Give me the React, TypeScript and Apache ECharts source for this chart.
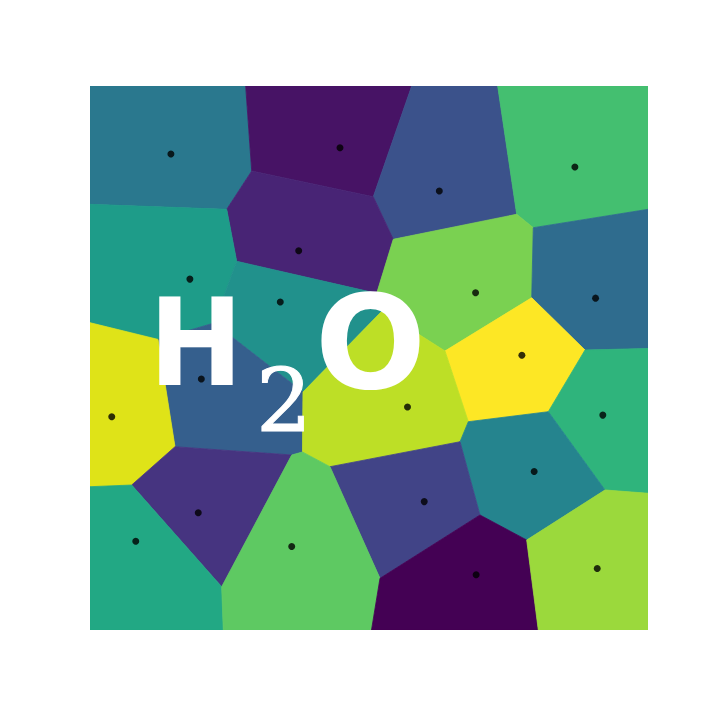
import React, { useEffect, useRef } from "react";
import * as echarts from "echarts";

// Marked points (data coordinates, axes 0..1)
const SITE_X = [0.145, 0.448, 0.626, 0.869, 0.374, 0.179, 0.341, 0.691, 0.906, 0.774, 0.1995, 0.039, 0.569, 0.919, 0.796, 0.599, 0.194, 0.082, 0.3615, 0.692, 0.909];
const SITE_Y = [0.875, 0.8865, 0.807, 0.851, 0.697, 0.645, 0.603, 0.620, 0.610, 0.505, 0.4615, 0.392, 0.410, 0.395, 0.2915, 0.236, 0.2155, 0.163, 0.1535, 0.1015, 0.113];
// colour value of each cell (0..1 on the viridis scale)
const CELL_VALUES = [0.40, 0.05, 0.25, 0.70, 0.10, 0.55, 0.50, 0.80, 0.35, 1.00, 0.30, 0.95, 0.90, 0.65, 0.45, 0.20, 0.15, 0.60, 0.75, 0.00, 0.85];

// Cell corner vertices (data coordinates)
const VERTEX_X = [0, 0.279, 0.2898, 0, 0.245, 0.5077, 0.5765, 0.7306, 0.7647, 0.5435, 1, 1, 0.7944, 0.2629, 0.5138, 0.5233, 0.6362, 0.7916, 0.8871, 1, 0.2222, 0.1219, 0, 0.3817, 0.1523, 0.0747, 0, 0.3615, 0.3808, 0.4301, 0.6631, 0.678, 0.8213, 0.9229, 1, 0.6989, 0.7826, 0.8034, 0.5197, 0.5045, 0.236, 0.2389, 0, 1];
const VERTEX_Y = [1, 1, 0.8438, 0.7825, 0.7733, 0.7965, 1, 1, 0.7642, 0.7182, 1, 0.7733, 0.7395, 0.6778, 0.6189, 0.5864, 0.5129, 0.6108, 0.5147, 0.5175, 0.5643, 0.5342, 0.5649, 0.4375, 0.3369, 0.2665, 0.2634, 0.3217, 0.3272, 0.3002, 0.3461, 0.3829, 0.4013, 0.2574, 0.2513, 0.2114, 0.1654, 0, 0.095, 0, 0.0796, 0, 0, 0];
// vertex indices of each cell, same order as the points
const CELL_VERTICES = [
  [0, 1, 2, 4, 3],
  [1, 6, 5, 2],
  [6, 7, 8, 9, 5],
  [7, 10, 11, 12, 8],
  [2, 5, 9, 14, 13, 4],
  [3, 4, 13, 20, 21, 22],
  [13, 14, 15, 23, 20],
  [9, 8, 12, 17, 16, 15, 14],
  [12, 11, 19, 18, 17],
  [17, 18, 32, 31, 16],
  [20, 23, 28, 27, 24, 21],
  [22, 21, 24, 25, 26],
  [15, 16, 31, 30, 29, 28, 23],
  [18, 19, 34, 33, 32],
  [31, 32, 33, 36, 35, 30],
  [30, 35, 38, 29],
  [24, 27, 40, 25],
  [26, 25, 40, 41, 42],
  [27, 28, 29, 38, 39, 41, 40],
  [35, 36, 37, 39, 38],
  [33, 34, 43, 37, 36],
];

const VIRIDIS = [
  "#440154", "#471365", "#482475", "#463480", "#414487", "#3b528b", "#355f8d",
  "#2f6c8e", "#2a788e", "#25848e", "#21918c", "#1e9c89", "#22a884", "#2fb47c",
  "#44bf70", "#5ec962", "#7ad151", "#9bd93c", "#bddf26", "#dfe318", "#fde725",
];

export default function App() {
  const ref = useRef<HTMLDivElement>(null);
  useEffect(() => {
    document.body.style.margin = "0";
    const chart = echarts.init(ref.current!, null, { renderer: "svg" });
    const cellData = SITE_X.map((x, i) => [x, SITE_Y[i], CELL_VALUES[i]]);
    const pointData = SITE_X.map((x, i) => [x, SITE_Y[i]]);
    chart.setOption({
      animation: false,
      backgroundColor: "#ffffff",
      grid: { left: 90, top: 86, width: 558, height: 544 },
      xAxis: { type: "value", min: 0, max: 1, show: false },
      yAxis: { type: "value", min: 0, max: 1, show: false },
      visualMap: {
        show: false,
        type: "continuous",
        min: 0,
        max: 1,
        dimension: 2,
        seriesIndex: 0,
        inRange: { color: VIRIDIS },
      },
      series: [
        {
          type: "custom",
          data: cellData,
          encode: { x: 0, y: 1 },
          clip: true,
          renderItem: (params: any, api: any) => {
            const idx = params.dataIndex;
            const points = CELL_VERTICES[idx].map((v) =>
              api.coord([VERTEX_X[v], VERTEX_Y[v]])
            );
            const color = api.visual("color");
            return {
              type: "polygon",
              shape: { points },
              style: { fill: color, stroke: color, lineWidth: 0.8 },
            };
          },
        },
        {
          type: "scatter",
          data: pointData,
          symbol: "circle",
          symbolSize: 7,
          itemStyle: { color: "#000000" },
          z: 5,
        },
      ],
      graphic: [
        {
          type: "text",
          z: 100,
          x: 196,
          y: 343,
          scaleX: 0.92,
          style: {
            text: "H",
            fill: "#ffffff",
            fontFamily: "DejaVu Sans",
            fontWeight: "bold",
            fontSize: 122,
            align: "center",
            verticalAlign: "middle",
          },
        },
        {
          type: "text",
          z: 100,
          x: 284,
          y: 401,
          style: {
            text: "2",
            fill: "#ffffff",
            stroke: "#ffffff",
            lineWidth: 1,
            fontFamily: "DejaVu Serif",
            fontSize: 88,
            align: "center",
            verticalAlign: "middle",
          },
        },
        {
          type: "text",
          z: 100,
          x: 370.5,
          y: 343.5,
          scaleX: 1.07,
          scaleY: 1.06,
          style: {
            text: "O",
            fill: "#ffffff",
            fontFamily: "DejaVu Sans",
            fontWeight: "bold",
            fontSize: 122,
            align: "center",
            verticalAlign: "middle",
          },
        },
      ],
    });
    return () => chart.dispose();
  }, []);
  return (
    <div
      ref={ref}
      style={{ position: "fixed", left: 0, top: 0, width: 720, height: 720 }}
    />
  );
}
